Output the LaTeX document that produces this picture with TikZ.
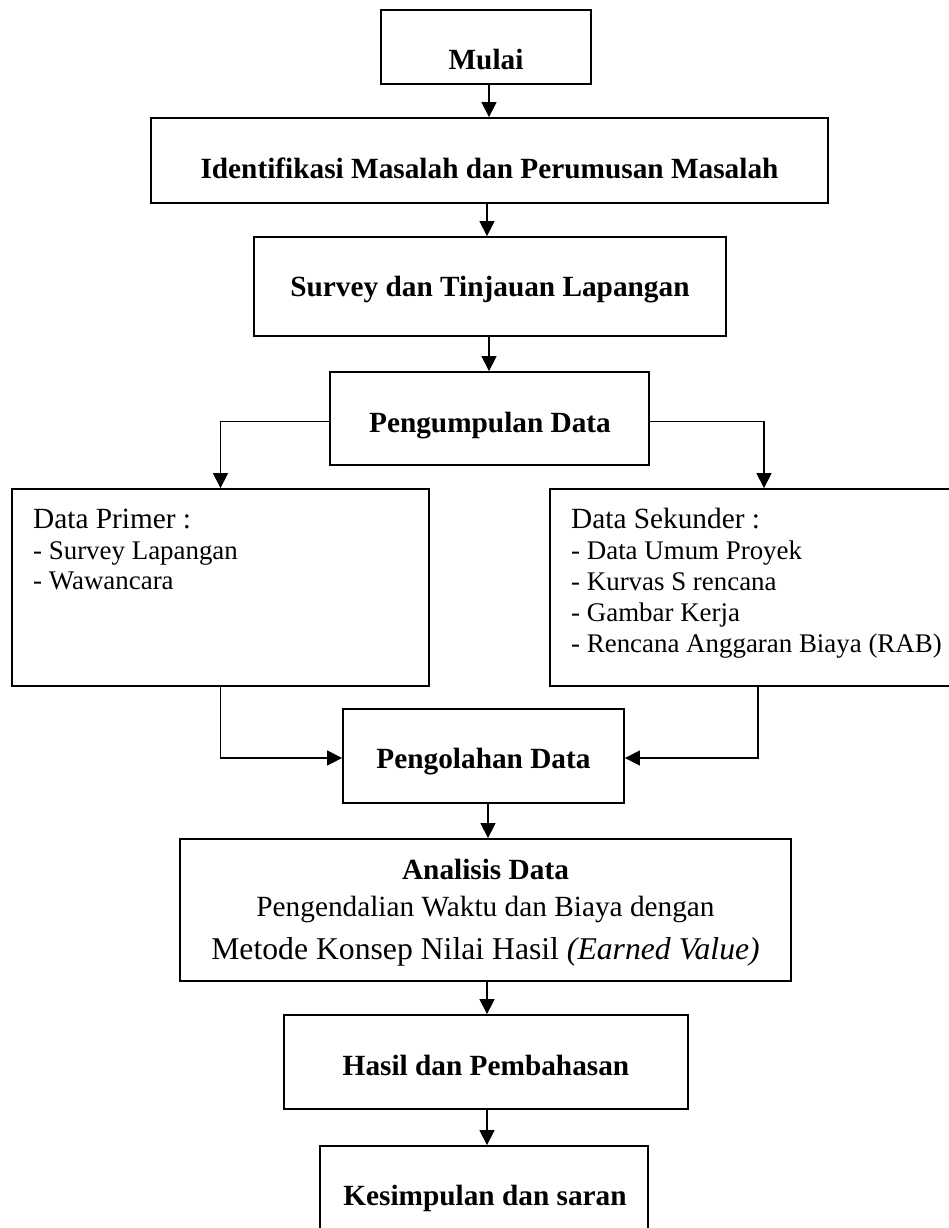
\documentclass[tikz,border=0pt]{standalone}
\usepackage{fontspec}
\setmainfont{Liberation Serif}
\usetikzlibrary{arrows.meta}
\begin{document}
\begin{tikzpicture}[x=1pt,y=-1pt,
  box/.style={draw, line width=1.8pt, rectangle, inner sep=0pt},
  conn/.style={line width=1.3pt, -{Triangle[length=15pt,width=15pt]}},
  bt/.style={font=\fontsize{29.3}{34}\selectfont\bfseries, anchor=base, inner sep=0pt},
  nt/.style={font=\fontsize{29.3}{34}\selectfont, anchor=base, inner sep=0pt},
  bigt/.style={font=\fontsize{31.7}{36}\selectfont, anchor=base, inner sep=0pt},
  headt/.style={font=\fontsize{29.3}{34}\selectfont, anchor=base west, inner sep=0pt},
  itemt/.style={font=\fontsize{26.9}{31}\selectfont, anchor=base west, inner sep=0pt}
]
\useasboundingbox (0,0) rectangle (949,1228);
\clip (0,0) rectangle (949,1228);
\fill[white] (0,0) rectangle (949,1228);

% boxes
\node[box, minimum width=210pt, minimum height=74pt] (mulai) at (486,47) {};
\node[box, minimum width=677pt, minimum height=85pt] (ident) at (489.5,160.5) {};
\node[box, minimum width=472pt, minimum height=99pt] (survey) at (490,286.5) {};
\node[box, minimum width=319pt, minimum height=93pt] (kumpul) at (489.5,418.5) {};
\node[box, minimum width=417pt, minimum height=197pt] (primer) at (220.5,587.5) {};
\node[box, minimum width=440pt, minimum height=197pt] (sekunder) at (770,587.5) {};
\node[box, minimum width=281pt, minimum height=94pt] (olah) at (483.5,756) {};
\node[box, minimum width=611pt, minimum height=142pt] (analisis) at (485.5,910) {};
\node[box, minimum width=404pt, minimum height=94pt] (hasil) at (486,1062) {};
\node[box, minimum width=328pt, minimum height=94pt] (simpul) at (484,1193) {};

% texts
\node[bt] (tmulai) at (486,69.4) {Mulai};
\node[bt] (tident) at (489.5,178.7) {Identifikasi Masalah dan Perumusan Masalah};
\node[bt] (tsurvey) at (490,296.5) {Survey dan Tinjauan Lapangan};
\node[bt] (tkumpul) at (490,432.7) {Pengumpulan Data};
\node[headt] (tprimer) at (33,528.7) {Data Primer :};
\node[itemt] (tp1) at (33,559.5) {- Survey Lapangan};
\node[itemt] (tp2) at (33,589.5) {- Wawancara};
\node[headt] (tsek) at (571,528.7) {Data Sekunder :};
\node[itemt] (ts1) at (571,559.5) {- Data Umum Proyek};
\node[itemt] (ts2) at (571,590) {- Kurvas S rencana};
\node[itemt] (ts3) at (571,621) {- Gambar Kerja};
\node[itemt] (ts4) at (571,652) {- Rencana Anggaran Biaya (RAB)};
\node[bt] (tolah) at (483.5,768.3) {Pengolahan Data};
\node[bt] (tanal) at (485.5,879.4) {Analisis Data};
\node[nt] (tanal2) at (485.5,916) {Pengendalian Waktu dan Biaya dengan};
\node[bigt] (tanal3) at (485.5,959.6) {Metode Konsep Nilai Hasil \textit{(Earned Value)}};
\node[bt] (thasil) at (486,1075) {Hasil dan Pembahasan};
\node[bt] (tsimpul) at (485,1205.4) {Kesimpulan dan saran};

% connectors
\draw[conn] ([xshift=3pt]mulai.south) -- ([xshift=-0.5pt]ident.north);
\draw[conn] ([xshift=-2.5pt]ident.south) -- ([xshift=-3pt]survey.north);
\draw[conn] ([xshift=-1pt]survey.south) -- ([xshift=-0.5pt]kumpul.north);
\draw[conn] ([yshift=-3pt]kumpul.west) -| (primer.north);
\draw[conn] ([yshift=-3pt]kumpul.east) -| ([xshift=-6pt]sekunder.north);
\draw[conn] (primer.south) |- ([yshift=-2pt]olah.west);
\draw[conn] ([xshift=-12pt]sekunder.south) |- ([yshift=-2pt]olah.east);
\draw[conn] ([xshift=4.5pt]olah.south) -- ([xshift=2.5pt]analisis.north);
\draw[conn] ([xshift=1.5pt]analisis.south) -- ([xshift=1pt]hasil.north);
\draw[conn] ([xshift=1pt]hasil.south) -- ([xshift=3pt]simpul.north);
\end{tikzpicture}
\end{document}
